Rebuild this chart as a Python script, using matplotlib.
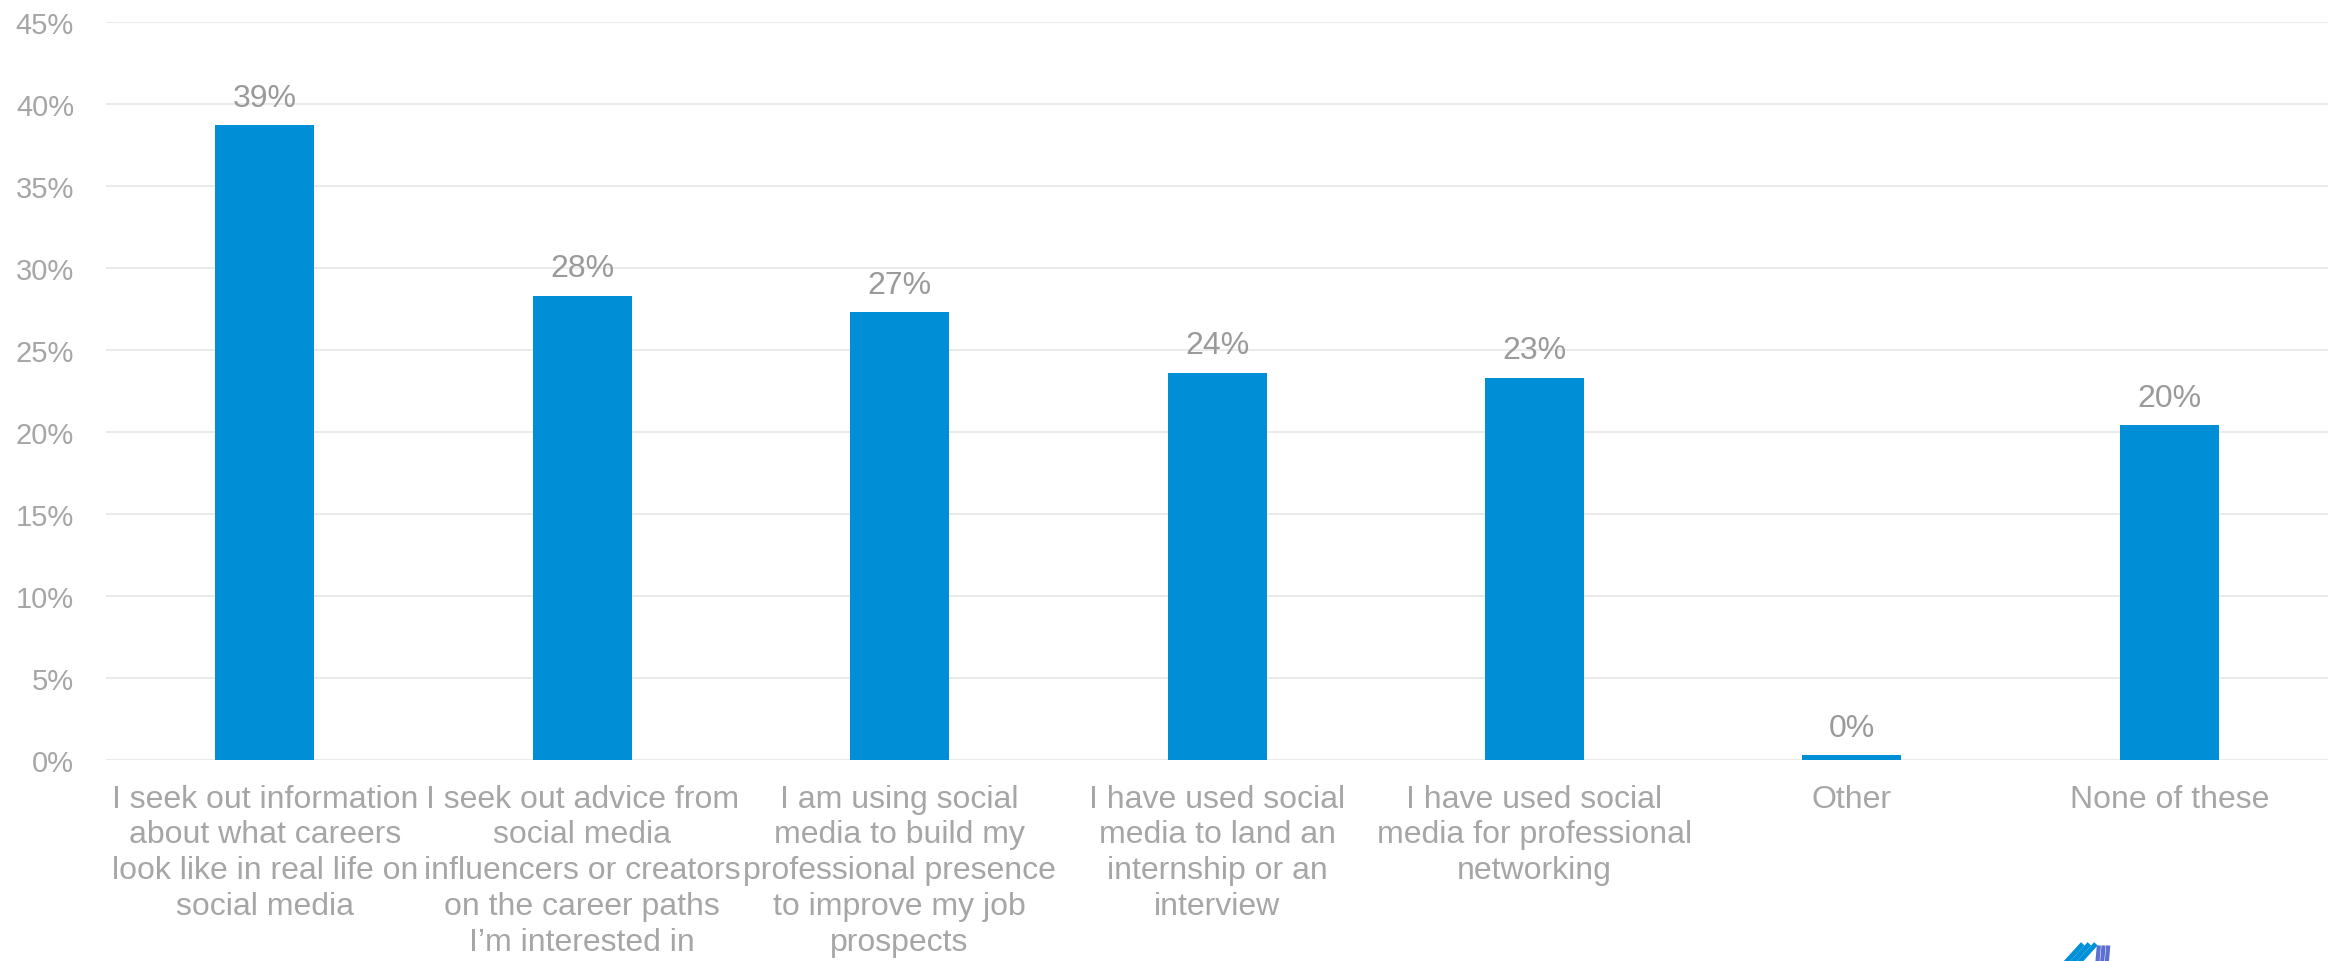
import matplotlib.pyplot as plt
from matplotlib.lines import Line2D
from matplotlib.ticker import PercentFormatter

plt.rcParams['font.family'] = ['Liberation Sans', 'DejaVu Sans']

categories = [
    "I seek out information\nabout what careers\nlook like in real life on\nsocial media",
    "I seek out advice from\nsocial media\ninfluencers or creators\non the career paths\nI\u2019m interested in",
    "I am using social\nmedia to build my\nprofessional presence\nto improve my job\nprospects",
    "I have used social\nmedia to land an\ninternship or an\ninterview",
    "I have used social\nmedia for professional\nnetworking",
    "Other",
    "None of these",
]
values = [38.7, 28.3, 27.3, 23.6, 23.3, 0.3, 20.4]
yticks = [0, 5, 10, 15, 20, 25, 30, 35, 40, 45]

bar_color = '#008ED6'
text_gray = '#A6A6A6'
label_gray = '#9A9A9A'

fig = plt.figure(figsize=(23.41, 9.62), dpi=100)
ax = fig.add_axes([0.0453, 0.2089, 0.9492, 0.7672])

x = list(range(len(categories)))
bars = ax.bar(x, values, width=0.312, color=bar_color, zorder=3)

for xi, v in zip(x, values):
    ax.annotate(f"{v:.0f}%", (xi, v), xytext=(0, 9), textcoords='offset points',
                ha='center', va='bottom', fontsize=23, color=label_gray, zorder=4)

ax.set_xlim(-0.5, len(categories) - 0.5)
ax.set_ylim(0, 45)
ax.set_yticks(yticks)
ax.yaxis.set_major_formatter(PercentFormatter(decimals=0))
ax.set_xticks(x)
ax.set_xticklabels(categories, fontsize=23, color=text_gray, linespacing=1.25)
ax.tick_params(axis='y', length=0, pad=23, labelsize=21, labelcolor=text_gray)
ax.tick_params(axis='x', length=0, pad=17)

ax.grid(axis='y', color='#E6E6E6', linewidth=1.2, zorder=0)
for s in ax.spines.values():
    s.set_visible(False)

# bits of the logo peeking in at the bottom edge
for x0, c in [(0.8830, '#0090D8'), (0.8858, '#0090D8'), (0.8886, '#0090D8')]:
    fig.add_artist(Line2D([x0, x0 + 0.006], [0.000, 0.016], color=c, lw=3.5))
for x0 in [0.8960, 0.8980, 0.9000]:
    fig.add_artist(Line2D([x0, x0 + 0.0005], [0.000, 0.014], color='#5B6FD0', lw=3.0))

fig.savefig('out.png', dpi=100)
